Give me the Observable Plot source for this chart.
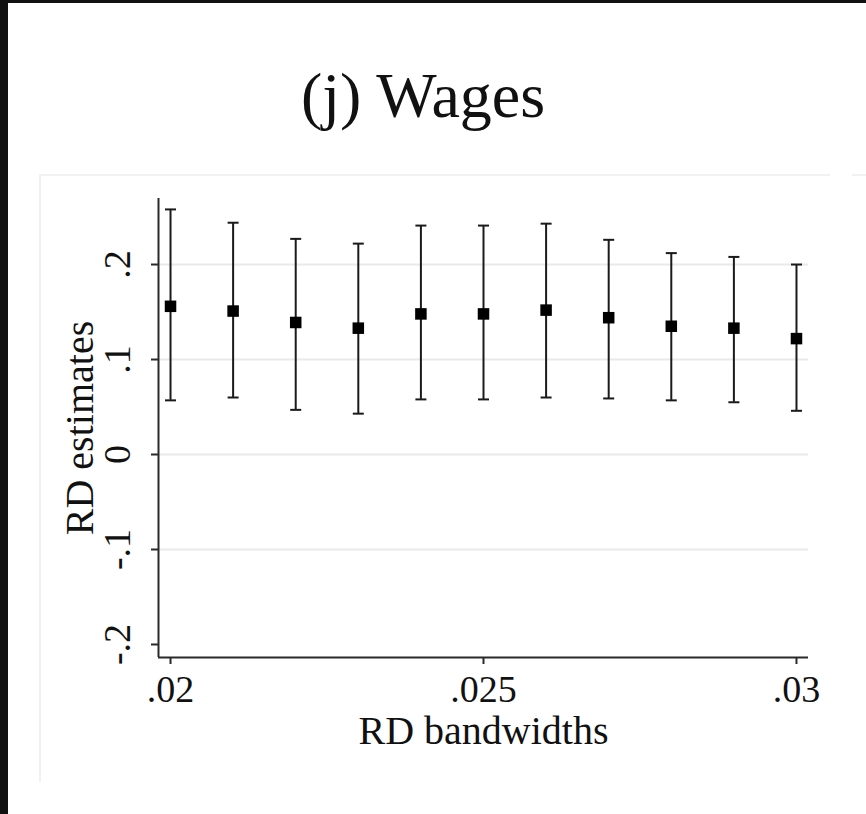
<!DOCTYPE html>
<html>
<head>
<meta charset="utf-8">
<script src="https://cdn.jsdelivr.net/npm/d3@7"></script>
<script src="https://cdn.jsdelivr.net/npm/@observablehq/plot@0.6"></script>
<style>
  html, body { margin: 0; padding: 0; }
  body { background: #111; width: 866px; height: 814px; position: relative; overflow: hidden; font-family: "Liberation Serif", "DejaVu Serif", serif; }
  #page { position: absolute; left: 8px; top: 3px; width: 858px; height: 811px; background: #fff; }
  #title { position: absolute; left: 0; width: 846px; top: 64px; text-align: center; font-family: "Liberation Serif", serif; font-size: 64px; line-height: 1; color: #111; }
  #chart { position: absolute; left: 0; top: 160px; }
  .frameline { position: absolute; background: #f1f1f1; z-index: 2; }
</style>
</head>
<body>
<div id="page"></div>
<div id="title">(j) Wages</div>
<div id="chart"></div>
<div class="frameline" style="left:40px; top:174px; width:790px; height:2px;"></div>
<div class="frameline" style="left:852px; top:174px; width:14px; height:2px;"></div>
<div class="frameline" style="left:39px; top:174px; width:2px; height:608px;"></div>
<script>
// Data
const bandwidths = [0.020, 0.021, 0.022, 0.023, 0.024, 0.025, 0.026, 0.027, 0.028, 0.029, 0.030];
const estimates  = [0.156, 0.151, 0.139, 0.133, 0.148, 0.148, 0.152, 0.144, 0.135, 0.133, 0.122];
const ciUpper    = [0.258, 0.244, 0.227, 0.222, 0.241, 0.241, 0.243, 0.226, 0.212, 0.208, 0.200];
const ciLower    = [0.057, 0.060, 0.047, 0.043, 0.058, 0.058, 0.060, 0.059, 0.057, 0.055, 0.046];

const xTicks = [0.02, 0.025, 0.03];
const xTickLabels = [".02", ".025", ".03"];
const yTicks = [0.2, 0.1, 0, -0.1, -0.2];
const yTickLabels = [".2", ".1", "0", "-.1", "-.2"];
const yGrid = [0.2, 0.1, 0, -0.1];
const xTitle = "RD bandwidths";
const yTitle = "RD estimates";

const xDomain = [0.019808, 0.030192];
const yDomain = [-0.2137, 0.2695];

const data = bandwidths.map((b, i) => ({bw: b, est: estimates[i], hi: ciUpper[i], lo: ciLower[i]}));
const xt = xTicks.map((v, i) => ({v, label: xTickLabels[i]}));
const yt = yTicks.map((v, i) => ({v, label: yTickLabels[i]}));

const capSymbol = {
  draw(context, size) {
    const r = Math.sqrt(size / Math.PI);
    context.moveTo(-r, 0);
    context.lineTo(r, 0);
  }
};

const FONT = "Liberation Serif";
const AXIS = "#2a2a2a";

const chart = Plot.plot({
  width: 866,
  height: 640,
  marginLeft: 158,
  marginRight: 58,
  marginTop: 38,
  marginBottom: 143,
  style: {background: "transparent", fontFamily: FONT, color: "#111"},
  x: {domain: xDomain, axis: null},
  y: {domain: yDomain, axis: null},
  marks: [
    Plot.ruleY(yGrid, {stroke: "#e9e9e9", strokeWidth: 2}),
    // axis lines
    Plot.ruleX([xDomain[0]], {stroke: AXIS, strokeWidth: 2}),
    Plot.ruleY([yDomain[0]], {stroke: AXIS, strokeWidth: 2}),
    // tick marks
    Plot.axisX({ticks: xTicks, tickSize: 7, tickFormat: () => "", stroke: AXIS, strokeWidth: 2, label: null}),
    Plot.axisY({ticks: yTicks, tickSize: 7, tickFormat: () => "", stroke: AXIS, strokeWidth: 2, label: null}),
    // tick labels
    Plot.text(xt, {x: "v", text: "label", frameAnchor: "bottom", lineAnchor: "bottom", dy: 44, fontSize: 38, fill: "#111"}),
    Plot.text(yt, {y: "v", text: "label", frameAnchor: "left", rotate: -90, textAnchor: "middle", lineAnchor: "bottom", dx: -29, fontSize: 38, fill: "#111"}),
    // axis titles
    Plot.text([xTitle], {text: d => d, frameAnchor: "bottom", lineAnchor: "bottom", dy: 86, fontSize: 40, fill: "#111"}),
    Plot.text([yTitle], {text: d => d, frameAnchor: "left", rotate: -90, textAnchor: "middle", lineAnchor: "bottom", dx: -66, fontSize: 40, fill: "#111"}),
    // error bars
    Plot.ruleX(data, {x: "bw", y1: "lo", y2: "hi", stroke: "#1a1a1a", strokeWidth: 2}),
    Plot.dot(data, {x: "bw", y: "hi", symbol: capSymbol, r: 5.5, stroke: "#1a1a1a", strokeWidth: 2}),
    Plot.dot(data, {x: "bw", y: "lo", symbol: capSymbol, r: 5.5, stroke: "#1a1a1a", strokeWidth: 2}),
    // point estimates
    Plot.dot(data, {x: "bw", y: "est", symbol: "square", r: 6.5, fill: "#000", stroke: "none"})
  ]
});
document.getElementById("chart").appendChild(chart);
</script>
</body>
</html>
